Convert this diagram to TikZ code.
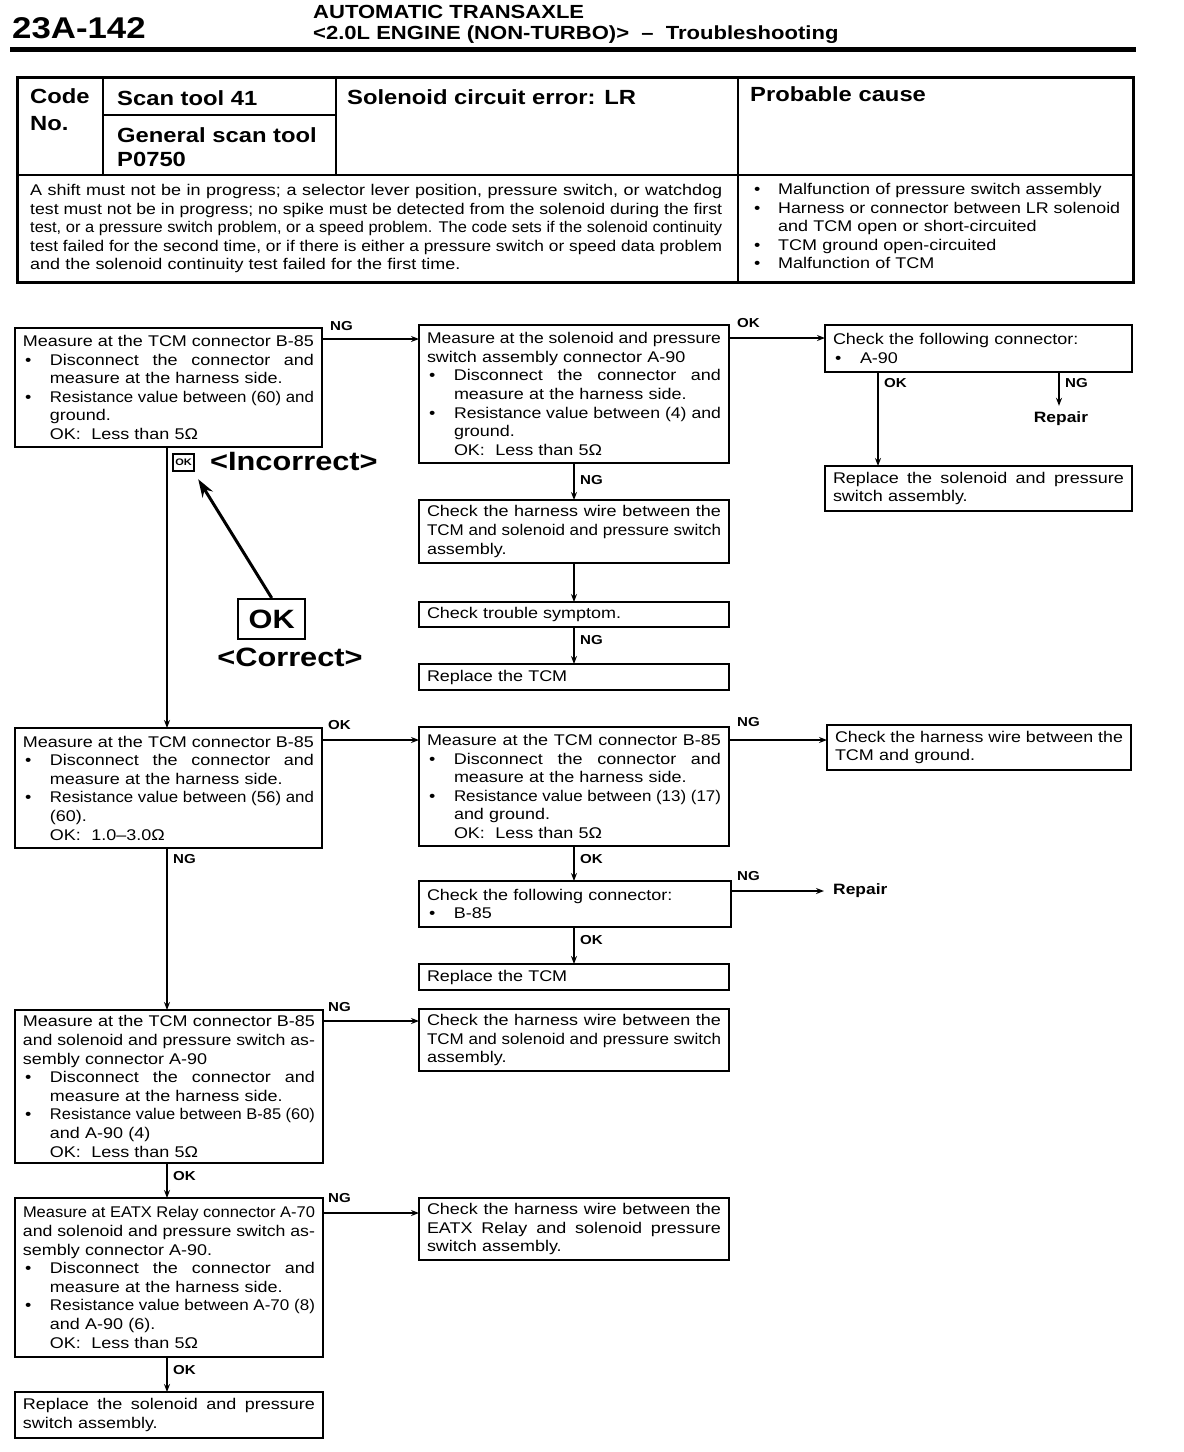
\documentclass[tikz,border=0pt]{standalone}
\usepackage{fontspec}
\setmainfont{Liberation Sans}[FakeStretch=1.16]
\usepackage{graphicx}
\usetikzlibrary{arrows.meta}
\setlength{\parindent}{0pt}
\newdimen\bi \bi=27pt
\newdimen\tmpw
\newsavebox\fitbox
\newcommand\fitline[2]{\sbox\fitbox{\spaceskip=0pt\xspaceskip=0pt #2}\ifdim\wd\fitbox>#1\relax\resizebox{#1}{\height}{\usebox\fitbox}\else\makebox[#1][s]{\spaceskip=0pt\xspaceskip=0pt #2}\fi}
\newcommand\jl[1]{\fitline{\hsize}{#1}}
\newcommand\bl[1]{\makebox[\bi][l]{\hspace{2pt}\textbullet}\tmpw=\dimexpr\hsize-\bi\relax\fitline{\tmpw}{#1}}
\newcommand\bp[1]{\makebox[\bi][l]{\hspace{2pt}\textbullet}#1}
\newcommand\ii[1]{\hspace*{\bi}#1}
\newcommand\bodyfnt{\fontsize{15.5}{18.6}\selectfont}
\newcommand\labfnt{\fontsize{13}{15}\selectfont\bfseries}
\newcommand\hdfnt{\fontsize{19}{21}\selectfont\bfseries}
\newcommand\thfnt{\fontsize{20.5}{24}\selectfont\bfseries}
\newcommand\bigfnt{\fontsize{26.5}{30}\selectfont\bfseries}
\newcommand\bx[6]{\pgfmathsetmacro\bw{#4-#2}\pgfmathsetmacro\bh{#5-#3}\pgfmathsetmacro\tw{\bw-16}%
  \node[box, minimum width=\bw pt, minimum height=\bh pt, text width=\tw pt] (#1) at (#2,#3) {#6};}
\tikzset{
  box/.style={draw, line width=2.4pt, anchor=north west, inner xsep=8pt, inner ysep=2pt, outer sep=0pt, align=left, font=\bodyfnt},
  arr/.style={line width=2pt, -{Stealth[length=8pt,width=6pt]}},
  lab/.style={font=\labfnt, inner sep=0pt, anchor=west},
  tt/.style={inner sep=0pt, anchor=base west},
}
\begin{document}
\begin{tikzpicture}[x=1pt,y=-1pt]
\fill[white] (0,0) rectangle (1184,1452);
\useasboundingbox (0,0) rectangle (1184,1452);

% header
\node[tt, font=\fontsize{30}{34}\selectfont\bfseries] (pg) at (12,38) {23A-142};
\node[tt, font=\hdfnt] (h1) at (313,18) {AUTOMATIC TRANSAXLE};
\node[tt, font=\hdfnt] (h2) at (313,39) {<2.0L ENGINE (NON-TURBO)>\ \ --\ \ Troubleshooting};
\draw[line width=5pt] (10,49) -- (1136,49);

% table
\draw[line width=3pt] (17,77) rectangle (1133,282);
\draw[line width=2.5pt] (103,77) -- (103,175) (336,77) -- (336,175) (738,77) -- (738,282)
  (17,175) -- (1133,175) (103,115) -- (336,115);
\node[tt, font=\thfnt] (code) at (30,103) {Code};
\node[tt, font=\thfnt] (no) at (30,130) {No.};
\node[tt, font=\thfnt] (scan) at (117,105) {Scan tool 41};
\node[tt, font=\thfnt] (gen) at (117,142) {General scan tool};
\node[tt, font=\thfnt] (pcode) at (117,166) {P0750};
\node[tt, font=\thfnt] (title) at (347,104) {Solenoid circuit error: LR};
\node[tt, font=\thfnt] (prob) at (750,101) {Probable cause};
\node[anchor=north west, inner sep=0pt, text width=692pt, align=left, font=\bodyfnt] (desc) at (30,184) {%
\jl{A shift must not be in progress; a selector lever position, pressure switch, or watchdog}\\
\jl{test must not be in progress; no spike must be detected from the solenoid during the first}\\
\jl{test, or a pressure switch problem, or a speed problem. The code sets if the solenoid continuity}\\
\jl{test failed for the second time, or if there is either a pressure switch or speed data problem}\\
and the solenoid continuity test failed for the first time.};
\node[anchor=north west, inner sep=0pt, text width=368pt, align=left, font=\bodyfnt] (causes) at (752,183) {\bi=26pt%
\bp{Malfunction of pressure switch assembly}\\
\bl{Harness or connector between LR solenoid}\\
\ii{and TCM open or short-circuited}\\
\bp{TCM ground open-circuited}\\
\bp{Malfunction of TCM}};

% flow boxes
\bx{A1}{15}{328}{322}{447}{%
\jl{Measure at the TCM connector B-85}\\
\bl{Disconnect the connector and}\\
\ii{measure at the harness side.}\\
\bl{Resistance value between (60) and}\\
\ii{ground.}\\
\ii{OK:\ \ Less than 5Ω}}
\bx{B1}{419}{325}{729}{463}{%
\jl{Measure at the solenoid and pressure}\\
switch assembly connector A-90\\
\bl{Disconnect the connector and}\\
\ii{measure at the harness side.}\\
\bl{Resistance value between (4) and}\\
\ii{ground.}\\
\ii{OK:\ \ Less than 5Ω}}
\bx{C1}{825}{325}{1132}{372}{%
Check the following connector:\\
\bp{A-90}}
\bx{D1}{825}{466}{1132}{511}{%
\jl{Replace the solenoid and pressure}\\
switch assembly.}
\bx{B2}{419}{500}{729}{563}{%
\jl{Check the harness wire between the}\\
\jl{TCM and solenoid and pressure switch}\\
assembly.}
\bx{B3}{419}{602}{729}{627}{Check trouble symptom.}
\bx{B4}{419}{664}{729}{690}{Replace the TCM}

\bx{A2}{15}{728}{322}{848}{%
\jl{Measure at the TCM connector B-85}\\
\bl{Disconnect the connector and}\\
\ii{measure at the harness side.}\\
\bl{Resistance value between (56) and}\\
\ii{(60).}\\
\ii{OK:\ \ 1.0–3.0Ω}}
\bx{B5}{419}{727}{729}{846}{%
\jl{Measure at the TCM connector B-85}\\
\bl{Disconnect the connector and}\\
\ii{measure at the harness side.}\\
\bl{Resistance value between (13) (17)}\\
\ii{and ground.}\\
\ii{OK:\ \ Less than 5Ω}}
\bx{C2}{827}{725}{1131}{770}{%
\jl{Check the harness wire between the}\\
TCM and ground.}
\bx{B6}{419}{881}{731}{927}{%
Check the following connector:\\
\bp{B-85}}
\bx{B7}{419}{964}{729}{990}{Replace the TCM}

\bx{A3}{15}{1010}{323}{1163}{%
\jl{Measure at the TCM connector B-85}\\
\jl{and solenoid and pressure switch as-}\\
sembly connector A-90\\
\bl{Disconnect the connector and}\\
\ii{measure at the harness side.}\\
\bl{Resistance value between B-85 (60)}\\
\ii{and A-90 (4)}\\
\ii{OK:\ \ Less than 5Ω}}
\bx{B8}{419}{1009}{729}{1071}{%
\jl{Check the harness wire between the}\\
\jl{TCM and solenoid and pressure switch}\\
assembly.}
\bx{A4}{15}{1198}{323}{1357}{%
\jl{Measure at EATX Relay connector A-70}\\
\jl{and solenoid and pressure switch as-}\\
sembly connector A-90.\\
\bl{Disconnect the connector and}\\
\ii{measure at the harness side.}\\
\bl{Resistance value between A-70 (8)}\\
\ii{and A-90 (6).}\\
\ii{OK:\ \ Less than 5Ω}}
\bx{B9}{419}{1198}{729}{1260}{%
\jl{Check the harness wire between the}\\
\jl{EATX Relay and solenoid pressure}\\
switch assembly.}
\bx{A5}{15}{1392}{323}{1438}{%
\jl{Replace the solenoid and pressure}\\
switch assembly.}

\node[font=\fontsize{15}{17}\selectfont\bfseries, inner sep=0pt] (rep1) at (1061,419) {Repair};
\node[font=\fontsize{15}{17}\selectfont\bfseries, inner sep=0pt, anchor=west] (rep2) at (833,891) {Repair};

% incorrect / correct legend
\node[draw, line width=2.2pt, minimum width=21pt, minimum height=17pt, inner sep=0pt, anchor=north west,
  font=\fontsize{9.5}{9.5}\selectfont\bfseries] (icon) at (172,453) {OK};
\node[inner sep=0pt, anchor=west, font=\bigfnt] (inc) at (210,462) {<Incorrect>};
\node[draw, line width=2.4pt, minimum width=67pt, minimum height=40pt, inner sep=0pt, anchor=north west, font=\bigfnt] (okbox) at (237,598) {OK};
\node[inner sep=0pt, font=\bigfnt] (cor) at (290,657) {<Correct>};
\draw[line width=3pt, -{Stealth[length=18pt,width=12pt]}] (okbox.north) -- ([xshift=3pt,yshift=-7pt]icon.south east);

% connectors
\draw[arr] (A1.east |- 0,339) -- (B1.west |- 0,339);
\node[lab] (l1) at (330,326) {NG};
\draw[arr] (B1.east |- 0,338) -- (C1.west |- 0,338);
\node[lab] (l2) at (737,323) {OK};
\draw[arr] (C1.south -| 878,0) -- (D1.north -| 878,0);
\node[lab] (l3) at (884,383) {OK};
\draw[arr, shorten >=6pt] (C1.south -| 1059,0) -- (rep1.north -| 1059,0);
\node[lab] (l4) at (1065,383) {NG};
\draw[arr] (B1.south -| 574,0) -- (B2.north -| 574,0);
\node[lab] (l5) at (580,480) {NG};
\draw[arr] (B2.south -| 574,0) -- (B3.north -| 574,0);
\draw[arr] (B3.south -| 574,0) -- (B4.north -| 574,0);
\node[lab] (l6) at (580,640) {NG};
\draw[arr] (A1.south -| 167,0) -- (A2.north -| 167,0);
\draw[arr] (A2.east |- 0,740) -- (B5.west |- 0,740);
\node[lab] (l7) at (328,725) {OK};
\draw[arr] (B5.east |- 0,740) -- (C2.west |- 0,740);
\node[lab] (l8) at (737,722) {NG};
\draw[arr] (B5.south -| 574,0) -- (B6.north -| 574,0);
\node[lab] (l9) at (580,859) {OK};
\draw[arr, shorten >=9pt] (B6.east |- 0,891) -- (rep2.west);
\node[lab] (l10) at (737,876) {NG};
\draw[arr] (B6.south -| 574,0) -- (B7.north -| 574,0);
\node[lab] (l11) at (580,940) {OK};
\draw[arr] (A2.south -| 167,0) -- (A3.north -| 167,0);
\node[lab] (l12) at (173,859) {NG};
\draw[arr] (A3.east |- 0,1021) -- (B8.west |- 0,1021);
\node[lab] (l13) at (328,1007) {NG};
\draw[arr] (A3.south -| 167,0) -- (A4.north -| 167,0);
\node[lab] (l14) at (173,1176) {OK};
\draw[arr] (A4.east |- 0,1213) -- (B9.west |- 0,1213);
\node[lab] (l15) at (328,1198) {NG};
\draw[arr] (A4.south -| 167,0) -- (A5.north -| 167,0);
\node[lab] (l16) at (173,1370) {OK};
\end{tikzpicture}
\end{document}
